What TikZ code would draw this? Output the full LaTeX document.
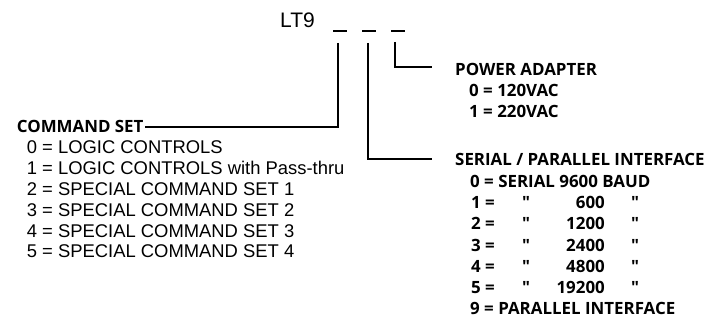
\documentclass[tikz,border=0pt]{standalone}
\usepackage{fontspec}
\setmainfont{Liberation Sans}
\newfontfamily\hdfont{Open Sans}
\usetikzlibrary{positioning}
\tikzset{
  wire/.style={line width=1.2pt},
  slot/.style={line width=1.6pt},
  hd/.style={font=\hdfont\bfseries\fontsize{16.9}{18}\selectfont, inner sep=0pt, anchor=base west},
  lst/.style={font=\fontsize{18.4}{20}\selectfont, inner sep=0pt, anchor=base west}}

\begin{document}
\begin{tikzpicture}[x=1pt,y=-1pt]
  \useasboundingbox (0,0) rectangle (724,320);
  \node [font=\fontsize{21}{24}\selectfont, inner sep=0pt, anchor=base west] (lt) at (280,28) {LT9};
  % the three digit slots
  \foreach \x [count=\i] in {333,362,391}
    \draw [slot] (\x,31) coordinate (s\i) -- ++(14,0);
  \coordinate (v1) at (338,43);
  \coordinate (v2) at (368,43);
  \coordinate (v3) at (395,42);
  \coordinate (e2) at (432,159);
  \coordinate (e3) at (432,67);

  % command set
  \node [hd, inner xsep=1.5pt] (cmd) at (15.2,133) {COMMAND SET};
  \draw [wire] (v1) |- (cmd.east);
  \foreach \t [count=\i from 0] in {LOGIC CONTROLS, LOGIC CONTROLS with Pass-thru,
      SPECIAL COMMAND SET 1, SPECIAL COMMAND SET 2, SPECIAL COMMAND SET 3, SPECIAL COMMAND SET 4}
    \node [lst] (c\i) at (26.7,154+20.8*\i) {\i{} = \t};

  % power adapter
  \draw [wire] (v3) |- (e3);
  \node [hd] (pwr) at (455,76) {POWER ADAPTER};
  \node [hd] (p0) at (469,97) {0 = 120VAC};
  \node [hd] (p1) at (469,118) {1 = 220VAC};

  % serial / parallel
  \draw [wire] (v2) |- (e2);
  \node [hd] (ser) at (455,166) {SERIAL / PARALLEL INTERFACE};
  \node [hd] (r0) at (470,187.2) {0 = SERIAL 9600 BAUD};
  \foreach \n/\v [count=\i] in {1/600,2/1200,3/2400,4/4800,5/19200} {
    \node [hd] (r\n) at (471,187.2+21.3*\i) {\n{} =};
    \node [hd, anchor=base] (q\n) at (526,187.2+21.3*\i) {"};
    \node [hd, anchor=base east] (b\n) at (605,187.2+21.3*\i) {\v};
    \node [hd, anchor=base] (k\n) at (635,187.2+21.3*\i) {"};
  }
  \node [hd] (r9) at (470,315) {9 = PARALLEL INTERFACE};
\end{tikzpicture}
\end{document}
